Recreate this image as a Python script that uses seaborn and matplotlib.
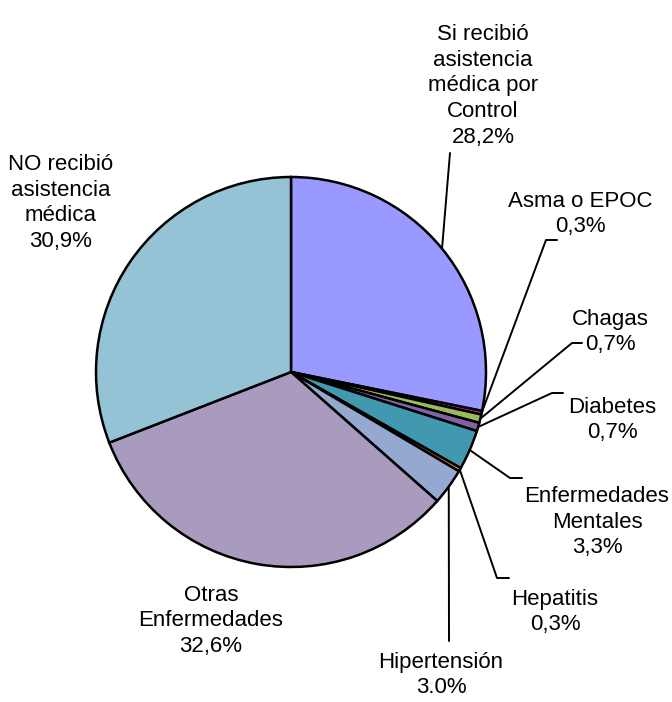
import numpy as np
import seaborn as sns
import matplotlib
matplotlib.use("Agg")
import matplotlib.pylab as plt

W, H = 672, 702

categories = ["Si recibió\nasistencia\nmédica por\nControl", "Asma o EPOC", "Chagas",
              "Diabetes", "Enfermedades\nMentales", "Hepatitis", "Hipertensión",
              "Otras\nEnfermedades", "NO recibió\nasistencia\nmédica"]
values = [28.2, 0.3, 0.7, 0.7, 3.3, 0.3, 3.0, 32.6, 30.9]
pct_labels = ["28,2%", "0,3%", "0,7%", "0,7%", "3,3%", "0,3%", "3.0%", "32,6%", "30,9%"]
colors = ["#9999FF", "#CC3399", "#9BBB59", "#8064A2", "#4198AF", "#F79646",
          "#95A9D0", "#A99BBD", "#93C3D5"]

# label block centres (image pixel coords, y from top)
label_pos = [(483, 86), (580, 214), (610, 332), (612, 420), (597, 522),
             (555, 612), (441, 675), (211, 621), (61, 203)]
# leader line points after the wedge anchor (None = no leader)
leaders = [[(450, 153)], [(546, 240), (557, 240)], [(572, 343), (582, 343)],
           [(552, 393), (563, 393)], [(510, 478), (522, 478)],
           [(497, 578), (509, 578)], [(449, 641)], None, None]

sns.set_theme(style="white")
plt.rcParams["font.family"] = ["Liberation Sans", "DejaVu Sans"]

fig = plt.figure(figsize=(W / 100, H / 100), dpi=100)
ax = fig.add_axes([0, 0, 1, 1])

cx, cy, R = 291, H - 372, 195
wedges, _ = ax.pie(values, colors=colors, startangle=90, counterclock=False,
                   center=(cx, cy), radius=R,
                   wedgeprops=dict(edgecolor="black", linewidth=1.8))

for i, w in enumerate(wedges):
    lx, ly = label_pos[i]
    ax.text(lx, H - ly, categories[i] + "\n" + pct_labels[i], ha="center", va="center",
            multialignment="center", fontsize=16, linespacing=1.3, color="black")
    if leaders[i] is None:
        continue
    # leader starts at the middle of the wedge's outer edge
    th = np.deg2rad((w.theta1 + w.theta2) / 2)
    xs = [cx + R * np.cos(th)] + [p[0] for p in leaders[i]]
    ys = [cy + R * np.sin(th)] + [H - p[1] for p in leaders[i]]
    ax.plot(xs, ys, color="black", linewidth=1.4)

ax.set_xlim(0, W)
ax.set_ylim(0, H)
ax.set_aspect("equal")
ax.axis("off")
fig.savefig("out.png", dpi=100, facecolor="white")
